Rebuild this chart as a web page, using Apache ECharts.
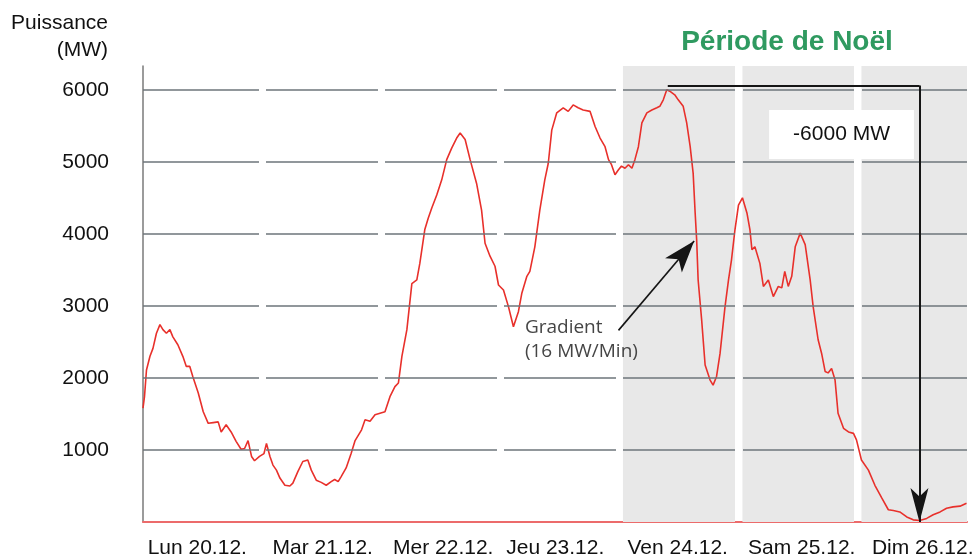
<!DOCTYPE html>
<html>
<head>
<meta charset="utf-8">
<script src="https://cdn.jsdelivr.net/npm/echarts@6/dist/echarts.min.js"></script>
<style>
html,body{margin:0;padding:0;background:#fff;}
#chart{width:976px;height:558px;}
</style>
</head>
<body>
<div id="chart"></div>
<script>
// Hours since Mon 20.12 00:00
const hours = [0,0.3,0.7,1.4,2,2.7,3.4,4,4.7,5.4,6,7,8,8.7,9.4,10,11.1,12.1,13.1,14.1,15.1,15.7,16.7,17.7,18.7,19.7,20.4,21.1,21.8,22.4,23.4,24.3,24.8,25.5,26.1,26.8,27.5,28.5,29.5,30.1,31.1,32.1,33.1,33.8,34.8,35.8,36.8,37.8,38.5,39.2,39.8,40.8,41.8,42.6,43.9,44.6,45.6,46.6,47.6,48.6,49.6,50.6,51.3,52,53,54,55,55.6,56.6,57.3,58,59,60,61,62,63,63.7,64.7,65.7,67,68,68.7,69.7,70.7,71.4,72.4,73.4,74.4,75.4,76.1,77.1,77.7,78.7,79.7,80.7,81.4,82.1,83.1,84.4,85.4,86.4,87.4,88.4,89.8,90.8,91.8,92.8,93.5,94.1,94.8,95.5,96.1,96.8,97.5,98.2,98.8,99.5,100.2,101.2,102.2,103.2,103.8,104.5,105.2,105.8,106.8,107.5,108.5,109.2,109.9,110.5,110.9,111.2,111.5,112.2,112.9,113.9,114.5,115.2,115.9,116.9,117.6,118.2,118.9,119.6,120.4,121.3,121.9,122.3,122.9,123.9,124.6,125.6,126.6,127.6,128.3,128.9,129.6,130.3,131,132,133,134,134.6,135.6,136.3,137,137.6,138.3,139,139.6,140.7,141.7,142.7,143.3,144.3,145.7,147,148.4,149.7,150.7,152,153.4,154.7,156,157.4,158.7,160.1,161.4,162.7,164.1,165.4];
const mw = [1580,1740,2110,2300,2410,2620,2740,2670,2620,2670,2570,2460,2300,2160,2160,2020,1790,1530,1370,1380,1390,1250,1350,1250,1120,1010,1020,1130,910,850,910,950,1090,910,790,720,610,510,500,540,700,840,860,720,580,550,510,560,590,560,630,750,950,1130,1280,1420,1400,1490,1510,1530,1740,1880,1930,2300,2670,3310,3360,3590,4060,4220,4360,4540,4750,5030,5190,5330,5400,5310,5030,4700,4330,3870,3690,3550,3290,3220,2990,2710,2920,3180,3410,3480,3820,4330,4750,4980,5440,5680,5750,5700,5790,5750,5720,5700,5490,5330,5210,5030,4960,4820,4890,4940,4910,4960,4910,5030,5210,5540,5680,5720,5750,5770,5860,6000,5980,5930,5860,5770,5540,5210,4840,4290,3920,3360,2810,2180,1970,1900,2020,2340,2990,3360,3640,4060,4400,4500,4290,4060,3780,3820,3590,3270,3360,3130,3270,3250,3480,3270,3410,3820,4010,3850,3360,2990,2530,2340,2090,2070,2130,1970,1510,1300,1250,1230,1140,860,720,510,330,170,160,140,70,30,20,50,100,140,190,210,220,260];

const dayLabels = ['Lun 20.12.','Mar 21.12.','Mer 22.12.','Jeu 23.12.','Ven 24.12.','Sam 25.12.','Dim 26.12.'];
const dayLabelHours = [10.9, 36.1, 60.3, 82.8, 107.4, 132.3, 156.6];
const yTicks = [1000, 2000, 3000, 4000, 5000, 6000];
const christmasBands = [[96.4, 118.9], [120.4, 142.8], [144.3, 165.5]];
const dropStart = [105.4, 6060];
const dropEnd = [155.95, 0];
const gradientFrom = [95.5, 2660];
const gradientTo = [110.7, 3900];
const dropLabelPos = [140.3, 5380];
const gradientLabelPos = [76.7, 2530];

const chart = echarts.init(document.getElementById('chart'), null, {renderer: 'canvas'});
const FONT = 'Liberation Sans, Arial, sans-serif';

chart.setOption({
  animation: false,
  backgroundColor: '#ffffff',
  grid: {left: 143, right: 9, top: 66, bottom: 36, containLabel: false, outerBoundsMode: 'none'},
  xAxis: {
    type: 'value', min: 0, max: 165.5,
    axisLine: {show: true, onZero: false, lineStyle: {color: '#ec6b6b', width: 2}},
    axisTick: {show: false},
    splitLine: {show: false},
    axisLabel: {
      customValues: dayLabelHours,
      formatter: function (v) {
        let best = 0, d = Infinity;
        dayLabelHours.forEach(function (h, i) { if (Math.abs(h - v) < d) { d = Math.abs(h - v); best = i; } });
        return dayLabels[best];
      },
      color: '#111', fontSize: 21, fontFamily: FONT, margin: 16
    }
  },
  yAxis: {
    type: 'value', min: 0, max: 6330, interval: 1000,
    axisLine: {show: true, onZero: false, lineStyle: {color: '#7a7a7a', width: 1.5}},
    axisTick: {show: false},
    splitLine: {show: false},
    axisLabel: {customValues: yTicks, formatter: function (v) { return String(v); }, color: '#111', fontSize: 21, fontFamily: FONT, margin: 34}
  },
  graphic: [
    {type: 'text', x: 108, y: 37, style: {text: 'Puissance\n(MW)', fill: '#111', font: '21px ' + FONT, align: 'right', verticalAlign: 'middle', lineHeight: 27}},
    {type: 'text', x: 787, y: 42, style: {text: 'Période de Noël', fill: '#2f9a60', font: 'bold 28px ' + FONT, align: 'center', verticalAlign: 'middle'}}
  ],
  series: [
    {
      type: 'line', data: [], silent: true, z: 1,
      markArea: {silent: true, itemStyle: {color: '#e8e8e8'},
        data: christmasBands.map(function (b) { return [{xAxis: b[0]}, {xAxis: b[1]}]; })}
    },
    {
      type: 'line', data: [], silent: true, z: 2,
      markLine: {silent: true, symbol: ['none', 'none'], label: {show: false},
        lineStyle: {color: '#6d767b', width: 1.5, type: [116, 7, 112, 7, 112, 7, 112, 7, 112, 8, 111, 8, 300]},
        data: yTicks.map(function (v) { return {yAxis: v}; })}
    },
    {
      type: 'line', z: 3, showSymbol: false, silent: true,
      data: hours.map(function (h, i) { return [h, mw[i]]; }),
      lineStyle: {color: '#e8302b', width: 1.6}
    },
    {
      type: 'line', data: [], silent: true, z: 4,
      markLine: {
        silent: true, symbol: ['none', 'none'], label: {show: false},
        lineStyle: {color: '#151515', width: 2, type: 'solid'},
        data: [
          [{coord: dropStart}, {coord: [dropEnd[0], dropStart[1]]}],
          [{coord: [dropEnd[0], dropStart[1]]}, {coord: dropEnd, symbol: 'arrow', symbolSize: [13.5, 34]}],
          [{coord: gradientFrom, lineStyle: {width: 1.6}}, {coord: gradientTo, symbol: 'arrow', symbolSize: [16.5, 32]}]
        ]
      },
      markPoint: {
        silent: true, symbol: 'rect', symbolSize: 1, itemStyle: {color: 'rgba(0,0,0,0)'},
        data: [
          {coord: dropLabelPos, label: {show: true, position: 'inside', formatter: '-6000 MW', backgroundColor: '#fff', padding: [14, 24], fontSize: 21, fontFamily: FONT, color: '#111'}},
          {coord: gradientLabelPos, label: {show: true, position: 'inside', align: 'left', verticalAlign: 'middle', formatter: 'Gradient\n(16 MW/Min)', lineHeight: 24, fontSize: 19, fontFamily: 'Open Sans', color: '#454545'}}
        ]
      }
    }
  ]
});
</script>
</body>
</html>
